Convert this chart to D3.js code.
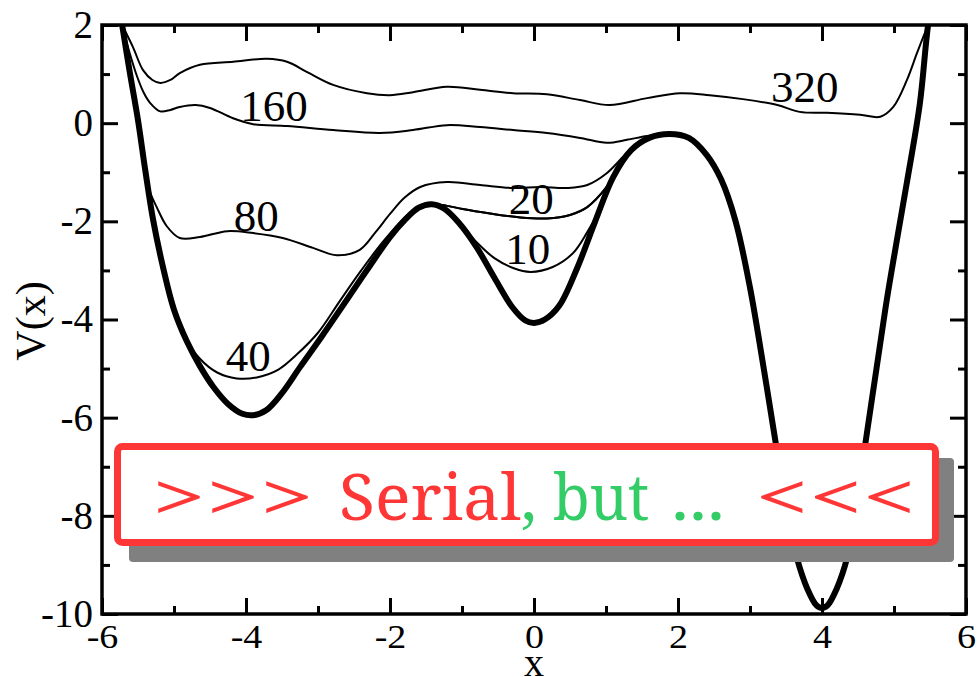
<!DOCTYPE html>
<html>
<head>
<meta charset="utf-8">
<script src="https://cdn.jsdelivr.net/npm/d3@7"></script>
<style>
  html, body { margin: 0; padding: 0; background: #fff; overflow: hidden; }
  svg { display: block; }
</style>
</head>
<body>
<svg id="chart" width="977" height="677"></svg>
<script>
// Axis ticks
const xTicks = [-6, -4, -2, 0, 2, 4, 6];
const xMinor = [-5, -3, -1, 1, 3, 5];
const yTicks = [-10, -8, -6, -4, -2, 0, 2];
const yMinor = [-9, -7, -5, -3, -1, 1];

// Bare potential V(x), t = 0 (heavy line)
const pot0 = [
  [-5.80, 2.80], [-5.72, 2.00], [-5.61, 1.00], [-5.50, 0.06], [-5.40, -0.95],
  [-5.29, -1.97], [-5.15, -2.95], [-5.00, -3.80], [-4.82, -4.45], [-4.64, -4.95],
  [-4.45, -5.38], [-4.25, -5.72], [-4.05, -5.92], [-3.90, -5.95], [-3.72, -5.85],
  [-3.50, -5.50], [-3.25, -4.97], [-2.95, -4.35], [-2.60, -3.60], [-2.30, -2.95],
  [-2.00, -2.32], [-1.80, -1.98], [-1.60, -1.72], [-1.42, -1.65], [-1.25, -1.74],
  [-1.05, -2.02], [-0.80, -2.52], [-0.55, -3.15], [-0.30, -3.75], [-0.12, -4.02],
  [0.00, -4.07], [0.15, -4.00], [0.35, -3.72], [0.60, -2.95], [0.85, -2.00],
  [1.10, -1.10], [1.35, -0.55], [1.60, -0.30], [1.88, -0.22], [2.15, -0.30],
  [2.40, -0.65], [2.60, -1.15], [2.80, -2.00], [3.00, -3.35], [3.18, -4.90],
  [3.35, -6.45], [3.50, -7.80], [3.65, -8.85], [3.80, -9.50], [3.92, -9.82],
  [4.00, -9.88], [4.08, -9.82], [4.20, -9.50], [4.35, -8.85], [4.48, -7.80],
  [4.60, -6.55], [4.76, -4.97], [4.90, -3.60], [5.05, -2.30], [5.18, -1.20],
  [5.36, 0.41], [5.47, 1.96], [5.58, 3.00]
];

// Filled potentials; each runs where it leaves the bare curve
const pot10 = [
  [-1.42, -1.65], [-1.25, -1.74], [-1.05, -2.02], [-0.80, -2.42], [-0.55, -2.75],
  [-0.29, -2.95], [-0.05, -3.03], [0.26, -2.93], [0.54, -2.65], [0.74, -2.22],
  [0.90, -1.80], [1.10, -1.10], [1.35, -0.55]
];
const pot20 = [
  [-1.80, -1.98], [-1.60, -1.72], [-1.42, -1.65], [-1.22, -1.68], [-0.99, -1.75],
  [-0.61, -1.84], [-0.19, -1.92], [0.18, -1.94], [0.50, -1.87], [0.74, -1.71],
  [1.01, -1.30], [1.20, -0.86], [1.35, -0.55]
];
const pot40 = [
  [-5.15, -2.95], [-5.00, -3.80], [-4.82, -4.42], [-4.64, -4.80], [-4.40, -5.08],
  [-4.13, -5.20], [-3.85, -5.18], [-3.55, -5.02], [-3.30, -4.72], [-3.00, -4.27],
  [-2.70, -3.63], [-2.40, -3.00], [-2.10, -2.42], [-1.80, -1.93], [-1.60, -1.70],
  [-1.42, -1.65], [-1.22, -1.68], [-0.99, -1.75], [-0.61, -1.84], [-0.19, -1.92],
  [0.18, -1.94], [0.50, -1.87], [0.74, -1.71], [1.01, -1.30], [1.20, -0.86],
  [1.35, -0.55]
];
const pot80 = [
  [-5.50, 0.06], [-5.40, -0.95], [-5.34, -1.38], [-5.24, -1.71], [-5.10, -2.10],
  [-4.92, -2.34], [-4.64, -2.32], [-4.26, -2.20], [-3.90, -2.24], [-3.49, -2.34],
  [-3.07, -2.54], [-2.74, -2.69], [-2.42, -2.58], [-2.20, -2.22], [-2.00, -1.85],
  [-1.80, -1.52], [-1.58, -1.30], [-1.21, -1.20], [-0.75, -1.26], [-0.29, -1.32],
  [0.08, -1.30], [0.46, -1.32], [0.74, -1.26], [1.01, -1.02], [1.29, -0.61],
  [1.51, -0.36], [1.88, -0.22]
];
const pot160 = [
  [-5.72, 2.00], [-5.62, 1.45], [-5.51, 0.94], [-5.42, 0.62], [-5.33, 0.41],
  [-5.19, 0.24], [-5.05, 0.27], [-4.92, 0.33], [-4.70, 0.37], [-4.50, 0.31],
  [-4.18, 0.10], [-3.90, -0.02], [-3.43, -0.06], [-2.79, -0.14], [-2.14, -0.20],
  [-1.68, -0.14], [-1.21, -0.04], [-0.75, -0.08], [-0.29, -0.14], [0.18, -0.20],
  [0.64, -0.30], [1.01, -0.40], [1.29, -0.34], [1.57, -0.26], [1.88, -0.22]
];
const pot320 = [
  [-5.72, 2.00], [-5.57, 1.55], [-5.43, 1.08], [-5.30, 0.88], [-5.19, 0.82],
  [-5.05, 0.88], [-4.92, 1.02], [-4.64, 1.19], [-4.18, 1.25], [-3.71, 1.31],
  [-3.43, 1.25], [-3.15, 1.04], [-2.79, 0.78], [-2.32, 0.61], [-2.00, 0.57],
  [-1.68, 0.63], [-1.21, 0.74], [-0.75, 0.68], [-0.29, 0.61], [0.18, 0.59],
  [0.64, 0.47], [1.05, 0.37], [1.57, 0.51], [2.03, 0.61], [2.44, 0.57],
  [2.90, 0.49], [3.38, 0.37], [3.69, 0.23], [4.07, 0.21], [4.53, 0.17],
  [4.81, 0.13], [4.99, 0.33], [5.18, 0.88], [5.32, 1.43], [5.43, 1.84],
  [5.47, 1.96]
];

const curveNames = ["10", "20", "40", "80", "160", "320"];
const bannerWords = [">>>", "Serial", ",", "but", "...", "<<<"];

// ---- layout ----
const plot = { left: 102, right: 966, top: 25, bottom: 614 };
const SERIF = '"Liberation Serif", "Times New Roman", serif';
const BANNER_FONT = '"Noto Serif", serif';
const RED = "#ff3636", GREEN = "#33cc66";

const x = d3.scaleLinear().domain([-6, 6]).range([plot.left, plot.right]);
const y = d3.scaleLinear().domain([-10, 2]).range([plot.bottom, plot.top]);

const svg = d3.select("#chart");

svg.append("defs").append("clipPath").attr("id", "plot-area")
  .append("rect")
  .attr("x", plot.left).attr("y", plot.top)
  .attr("width", plot.right - plot.left).attr("height", plot.bottom - plot.top);

const line = d3.line()
  .x(d => x(d[0]))
  .y(d => y(d[1]))
  .curve(d3.curveCatmullRom.alpha(0.5));

const curves = svg.append("g").attr("clip-path", "url(#plot-area)");
[pot10, pot20, pot40, pot80, pot160, pot320].forEach(s => {
  curves.append("path")
    .attr("d", line(s))
    .attr("fill", "none")
    .attr("stroke", "#000")
    .attr("stroke-width", 2)
    .attr("stroke-linejoin", "round");
});
curves.append("path")
  .attr("d", line(pot0))
  .attr("fill", "none")
  .attr("stroke", "#000")
  .attr("stroke-width", 6)
  .attr("stroke-linejoin", "round");

// curve labels, anchored in data coordinates (left end of baseline)
const labelAnchor = {
  "10": [-0.40, -2.86], "20": [-0.35, -1.85], "40": [-4.28, -5.05],
  "80": [-4.17, -2.20], "160": [-4.08, 0.04], "320": [3.29, 0.43]
};
svg.append("g").selectAll("text")
  .data(curveNames)
  .join("text")
  .attr("x", d => x(labelAnchor[d][0]))
  .attr("y", d => y(labelAnchor[d][1]))
  .style("font-family", SERIF)
  .style("font-size", "45px")
  .attr("fill", "#000")
  .text(d => d);

// ---- axes: major and minor ticks on all four sides, pointing inward ----
const fmt = d => String(d);
function styleAxis(g) {
  g.select(".domain").remove();
  g.selectAll(".tick line").attr("stroke", "#000").attr("stroke-width", 3);
}

const xb = svg.append("g").attr("transform", `translate(0,${plot.bottom})`)
  .call(d3.axisBottom(x).tickValues(xTicks).tickSizeInner(-16).tickSizeOuter(0).tickFormat(fmt))
  .call(styleAxis);
xb.selectAll(".tick text")
  .attr("y", 0).attr("dy", null)
  .attr("transform", "translate(0,34) scale(1,0.87)")
  .style("font-family", SERIF).style("font-size", "38px")
  .attr("fill", "#000");

svg.append("g").attr("transform", `translate(0,${plot.bottom})`)
  .call(d3.axisBottom(x).tickValues(xMinor).tickSizeInner(-8).tickSizeOuter(0).tickFormat(""))
  .call(styleAxis);

svg.append("g").attr("transform", `translate(0,${plot.top})`)
  .call(d3.axisTop(x).tickValues(xTicks).tickSizeInner(-16).tickSizeOuter(0).tickFormat(""))
  .call(styleAxis);
svg.append("g").attr("transform", `translate(0,${plot.top})`)
  .call(d3.axisTop(x).tickValues(xMinor).tickSizeInner(-8).tickSizeOuter(0).tickFormat(""))
  .call(styleAxis);

const yl = svg.append("g").attr("transform", `translate(${plot.left},0)`)
  .call(d3.axisLeft(y).tickValues(yTicks).tickSizeInner(-16).tickSizeOuter(0).tickPadding(9).tickFormat(fmt))
  .call(styleAxis);
yl.selectAll(".tick text")
  .style("font-family", SERIF).style("font-size", "39px")
  .attr("fill", "#000");

svg.append("g").attr("transform", `translate(${plot.left},0)`)
  .call(d3.axisLeft(y).tickValues(yMinor).tickSizeInner(-8).tickSizeOuter(0).tickFormat(""))
  .call(styleAxis);

svg.append("g").attr("transform", `translate(${plot.right},0)`)
  .call(d3.axisRight(y).tickValues(yTicks).tickSizeInner(-16).tickSizeOuter(0).tickFormat(""))
  .call(styleAxis);
svg.append("g").attr("transform", `translate(${plot.right},0)`)
  .call(d3.axisRight(y).tickValues(yMinor).tickSizeInner(-8).tickSizeOuter(0).tickFormat(""))
  .call(styleAxis);

// frame
svg.append("rect")
  .attr("x", plot.left).attr("y", plot.top)
  .attr("width", plot.right - plot.left).attr("height", plot.bottom - plot.top)
  .attr("fill", "none").attr("stroke", "#000").attr("stroke-width", 3.5);

// axis titles
svg.append("text")
  .attr("x", x(0)).attr("y", 676)
  .attr("text-anchor", "middle")
  .style("font-family", SERIF).style("font-size", "40px")
  .attr("fill", "#000")
  .text("x");
svg.append("text")
  .attr("transform", "translate(45,321) rotate(-90)")
  .attr("text-anchor", "middle")
  .style("font-family", SERIF).style("font-size", "42px")
  .attr("fill", "#000")
  .text("V(x)");

// ---- banner with drop shadow ----
const banner = svg.append("g");
banner.append("rect")
  .attr("x", 129).attr("y", 458).attr("width", 825).attr("height", 104)
  .attr("rx", 4).attr("fill", "#808080");
banner.append("rect")
  .attr("x", 117.5).attr("y", 446.5).attr("width", 818).attr("height", 96)
  .attr("rx", 5).attr("fill", "#fff")
  .attr("stroke", RED).attr("stroke-width", 7);

const bt = banner.append("text")
  .attr("y", 520)
  .style("font-family", BANNER_FONT)
  .style("font-size", "63px");
bt.append("tspan").attr("x", 152).attr("textLength", 162)
  .attr("lengthAdjust", "spacingAndGlyphs").attr("fill", RED).text(bannerWords[0]);
bt.append("tspan").attr("fill", RED).text(" ");
bt.append("tspan").attr("x", 339).attr("textLength", 182)
  .attr("lengthAdjust", "spacingAndGlyphs").attr("fill", RED).text(bannerWords[1]);
bt.append("tspan").attr("fill", GREEN).text(bannerWords[2] + " ");
bt.append("tspan").attr("x", 553).attr("textLength", 96)
  .attr("lengthAdjust", "spacingAndGlyphs").attr("fill", GREEN).text(bannerWords[3]);
bt.append("tspan").attr("fill", GREEN).text(" ");
bt.append("tspan").attr("x", 671).attr("textLength", 54)
  .attr("lengthAdjust", "spacingAndGlyphs").attr("fill", GREEN).text(bannerWords[4]);
bt.append("tspan").attr("fill", RED).text(" ");
bt.append("tspan").attr("x", 755).attr("textLength", 161)
  .attr("lengthAdjust", "spacingAndGlyphs").attr("fill", RED).text(bannerWords[5]);
</script>
</body>
</html>
